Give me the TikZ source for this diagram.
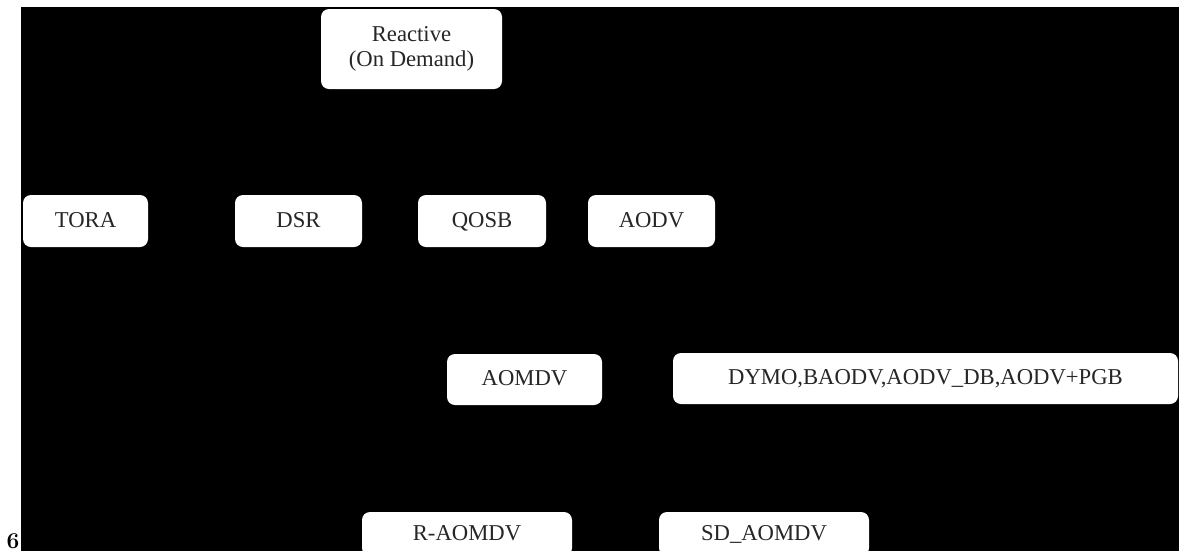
\documentclass[tikz,border=0pt]{standalone}
\usepackage{fontspec}
\newfontfamily\tnr{Liberation Serif}
\begin{document}
\begin{tikzpicture}[x=0.75pt,y=-0.75pt,
  box/.style={fill=white,rounded corners=6pt,inner sep=0pt,
    font=\tnr\fontsize{17}{19}\selectfont,text=black!85,align=center},
  one/.style={box,text height=12pt,text depth=3pt}]
\useasboundingbox (0,0) rectangle (1179,551);
\clip (0,0) rectangle (1179,551);
\fill[white] (0,0) rectangle (1179,551);
\fill[black] (21,7) rectangle (1179,551);
\node[box,minimum width=135.75pt,minimum height=60pt] (reactive) at (411.5,49) {Reactive\\(On Demand)};
\node[one,minimum width=93.75pt,minimum height=39pt] (tora) at (85.5,221) {TORA};
\node[one,minimum width=95.25pt,minimum height=39pt] (dsr) at (298.5,221) {DSR};
\node[one,minimum width=96pt,minimum height=39pt] (qosb) at (482,221) {QOSB};
\node[one,minimum width=95.25pt,minimum height=39pt] (aodv) at (651.5,221) {AODV};
\node[one,minimum width=116.25pt,minimum height=38.25pt] (aomdv) at (524.5,379.5) {AOMDV};
\node[one,minimum width=378.75pt,minimum height=38.25pt] (dymo) at (925.5,378.5) {DYMO,BAODV,AODV\_DB,AODV+PGB};
\node[one,minimum width=157.5pt,minimum height=33pt] (raomdv) at (467,534) {R-AOMDV};
\node[one,minimum width=157.5pt,minimum height=33pt] (sdaomdv) at (764,534) {SD\_AOMDV};
\node[anchor=base,inner sep=0pt,font=\fontsize{17}{19}\selectfont\bfseries] (six) at (13,548) {6};
\end{tikzpicture}
\end{document}
